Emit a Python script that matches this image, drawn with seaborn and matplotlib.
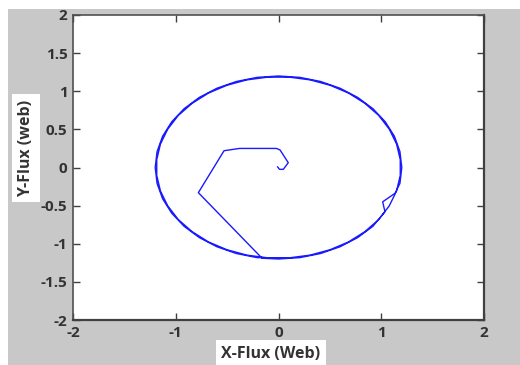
import matplotlib
matplotlib.use("Agg")
import matplotlib.pyplot as plt
from matplotlib.patches import Rectangle
import pandas as pd
import seaborn as sns

# Start-up transient of the stator flux vector (Wb)
inner_x = [-0.01, 0.01, 0.047, 0.095, 0.015, -0.02, -0.38, -0.53, -0.78, -0.16]
inner_y = [0.01, -0.024, -0.024, 0.063, 0.23, 0.25, 0.25, 0.22, -0.33, -1.19]

# First revolution of the flux locus, including the small kink near (1.0, -0.45)
orbit1_x = [0.000, 0.208, 0.410, 0.600, 0.771, 0.919, 1.036, 1.014, 1.134, 1.182, 1.200,
            1.182, 1.128, 1.039, 0.919, 0.771, 0.600, 0.410, 0.208, 0.000, -0.208, -0.410,
            -0.600, -0.771, -0.919, -1.039, -1.128, -1.182, -1.200, -1.182, -1.128, -1.039,
            -0.919, -0.771, -0.600, -0.410, -0.208]
orbit1_y = [-1.200, -1.182, -1.128, -1.039, -0.919, -0.771, -0.580, -0.450, -0.338, -0.208, 0.000,
            0.208, 0.410, 0.600, 0.771, 0.919, 1.039, 1.128, 1.182, 1.200, 1.182, 1.128,
            1.039, 0.919, 0.771, 0.600, 0.410, 0.208, 0.000, -0.208, -0.410, -0.600,
            -0.771, -0.919, -1.039, -1.128, -1.182]

# Second revolution (steady state)
orbit2_x = [0.104, 0.308, 0.503, 0.683, 0.841, 0.975, 1.078, 1.149, 1.185,
            1.185, 1.149, 1.078, 0.975, 0.841, 0.683, 0.503, 0.308, 0.104,
            -0.104, -0.308, -0.503, -0.683, -0.841, -0.975, -1.078, -1.149, -1.185,
            -1.185, -1.149, -1.078, -0.975, -0.841, -0.683, -0.503, -0.308, -0.104,
            0.104]
orbit2_y = [-1.185, -1.149, -1.078, -0.975, -0.841, -0.683, -0.503, -0.308, -0.104,
            0.104, 0.308, 0.503, 0.683, 0.841, 0.975, 1.078, 1.149, 1.185,
            1.185, 1.149, 1.078, 0.975, 0.841, 0.683, 0.503, 0.308, 0.104,
            -0.104, -0.308, -0.503, -0.683, -0.841, -0.975, -1.078, -1.149, -1.185,
            -1.185]

x_ticks = [-2, -1, 0, 1, 2]
y_ticks = [-2, -1.5, -1, -0.5, 0, 0.5, 1, 1.5, 2]
x_ticklabels = ["-2", "-1", "0", "1", "2"]
y_ticklabels = ["-2", "-1.5", "-1", "-0.5", "0", "0.5", "1", "1.5", "2"]

flux = pd.DataFrame({
    "psi_x": inner_x + orbit1_x + orbit2_x,
    "psi_y": inner_y + orbit1_y + orbit2_y,
})

sns.set_style("ticks")
plt.rcParams["font.family"] = ["Open Sans", "DejaVu Sans"]

W, H = 520, 365
fig = plt.figure(figsize=(W / 100, H / 100), dpi=100)
fig.patch.set_facecolor("#c8c8c8")
# white strips along the top and left edge
fig.patches.append(Rectangle((0, 1 - 9 / H), 1, 9 / H, transform=fig.transFigure,
                             facecolor="white", edgecolor="none", zorder=0))
fig.patches.append(Rectangle((0, 0), 8 / W, 1, transform=fig.transFigure,
                             facecolor="white", edgecolor="none", zorder=0))

ax = fig.add_axes([73 / W, 1 - 320 / H, (484 - 73) / W, (320 - 15) / H])
ax.set_facecolor("white")

sns.lineplot(data=flux, x="psi_x", y="psi_y", sort=False, estimator=None,
             color="#1a1aff", linewidth=1.0, solid_joinstyle="round", ax=ax)

ax.set_xlim(-2, 2)
ax.set_ylim(-2, 2)
ax.set_xticks(x_ticks)
ax.set_yticks(y_ticks)
ax.set_xticklabels(x_ticklabels)
ax.set_yticklabels(y_ticklabels)
ax.set_xlabel("")
ax.set_ylabel("")
ax.tick_params(direction="in", length=5, width=1, color="#404040",
               top=True, right=True, labelsize=11, labelcolor="#333333", pad=4)
for lab in ax.get_xticklabels() + ax.get_yticklabels():
    lab.set_fontweight("bold")
for side in ["left", "top"]:
    ax.spines[side].set_color("#505050")
    ax.spines[side].set_linewidth(1.2)
for side in ["right", "bottom"]:
    ax.spines[side].set_color("#404040")
    ax.spines[side].set_linewidth(1.6)

fig.text(26 / W, 1 - 148 / H, "Y-Flux (web)", rotation=90, ha="center", va="center",
         fontsize=11.5, fontweight="bold", color="#333333",
         bbox=dict(facecolor="white", edgecolor="none", pad=4))
fig.text(271 / W, 1 - 354 / H, "X-Flux (Web)", ha="center", va="center",
         fontsize=11.5, fontweight="bold", color="#333333",
         bbox=dict(facecolor="white", edgecolor="none", pad=4))

fig.savefig("out.png", dpi=100, facecolor=fig.get_facecolor())
